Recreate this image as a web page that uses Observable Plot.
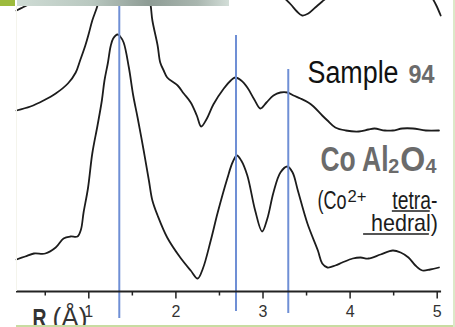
<!DOCTYPE html>
<html><head><meta charset="utf-8">
<script src="https://cdn.jsdelivr.net/npm/d3@7"></script>
<script src="https://cdn.jsdelivr.net/npm/@observablehq/plot@0.6"></script>
<style>
html,body{margin:0;padding:0;background:#fff;overflow:hidden}
#wrap{position:relative;width:455px;height:327px;overflow:hidden}
#wrap svg{position:absolute;left:0;top:0}
.deco{position:absolute;pointer-events:none}
</style></head><body>
<div id="wrap"></div>
<script>
// Fourier-transform magnitude curves (arbitrary units) vs R (Å)
const coR = [0.17,0.27,0.37,0.50,0.62,0.71,0.79,0.87,0.91,0.94,0.99,1.04,1.10,1.15,1.18,1.22,1.25,1.28,1.33,1.36,1.40,1.46,1.51,1.56,1.63,1.69,1.73,1.79,1.90,2.05,2.17,2.25,2.31,2.40,2.48,2.59,2.65,2.70,2.75,2.82,2.91,2.99,3.05,3.12,3.20,3.28,3.34,3.40,3.51,3.63,3.68,3.74,3.83,3.91,4.03,4.12,4.21,4.35,4.49,4.58,4.67,4.75,4.83,4.92,5.02];
const coV = [0.32,0.35,0.38,0.38,0.44,0.53,0.55,0.55,0.62,0.79,1.03,1.38,1.66,1.91,2.11,2.29,2.45,2.53,2.57,2.55,2.49,2.24,1.96,1.74,1.41,1.11,0.91,0.76,0.54,0.34,0.21,0.13,0.23,0.51,0.79,1.13,1.29,1.36,1.31,1.16,0.81,0.60,0.73,0.99,1.19,1.25,1.19,1.01,0.68,0.41,0.28,0.24,0.26,0.29,0.33,0.34,0.33,0.37,0.41,0.39,0.34,0.26,0.21,0.22,0.24];

const sampleR = [0.17,0.33,0.48,0.62,0.76,0.85,0.90,0.96,1.00,1.04,1.10,1.13,1.19,1.25,1.35,1.46,1.55,1.63,1.70,1.73,1.79,1.82,1.86,1.90,2.02,2.09,2.17,2.24,2.29,2.35,2.43,2.55,2.63,2.68,2.75,2.82,2.90,2.97,3.04,3.12,3.20,3.28,3.35,3.43,3.52,3.58,3.68,3.74,3.83,3.95,4.10,4.21,4.28,4.40,4.49,4.60,4.72,4.87,5.02];
const sampleV = [1.81,1.85,1.91,1.98,2.08,2.19,2.31,2.46,2.58,2.71,2.86,2.99,3.21,3.46,3.61,3.51,3.26,3.06,2.91,2.71,2.46,2.29,2.21,2.14,2.06,1.98,1.89,1.76,1.65,1.72,1.87,2.03,2.11,2.14,2.11,2.04,1.92,1.83,1.89,1.96,1.99,1.99,1.96,1.93,1.89,1.85,1.76,1.71,1.64,1.61,1.60,1.62,1.63,1.61,1.61,1.63,1.63,1.61,1.61];

// partially visible curve above (cut off by the slide)
const upperR = [0.17,0.24,0.33,0.42,0.56,1.02,2.28,2.97,3.14,3.24,3.32,3.39,3.45,3.52,3.60,3.68,3.78,4.35,4.87,4.94,4.99,5.04];
const upperV = [2.81,2.84,2.88,2.93,3.03,3.51,3.31,3.21,3.03,2.94,2.87,2.80,2.76,2.78,2.84,2.90,2.97,3.31,3.03,2.94,2.86,2.76];

// reference shell distances
const peakR = [1.35, 2.69, 3.29];
const peakTop = [2.95, 2.56, 2.22];
const peakBottom = [-0.27, -0.20, -0.22];

const majorTicks = [1, 2, 3, 4, 5];
const minorTicks = [0.5, 1.5, 2.5, 3.5, 4.5];
const tickLabels = ["1", "2", "3", "4", "5"];

const sampleWord = "Sample", sampleNum = "94";
const compoundMain = ["Co Al", "O"], compoundSub = ["2", "4"];
const ionText = "(Co", ionCharge = "2+", geomLine1 = "tetra-", geomLine2 = "hedral)";
const axisVar = "R", axisUnit = "(Å)";

const zip = (a, b) => a.map((x, i) => ({x, y: b[i]}));
const co = zip(coR, coV), sample = zip(sampleR, sampleV), upper = zip(upperR, upperV);
const peaks = peakR.map((r, i) => ({r, top: peakTop[i], bottom: peakBottom[i]}));

const font = "'Liberation Sans', Arial, Helvetica, sans-serif";
const grayBold = "#6b6b6b";
const ink = "#1c1c1c";

const lineOpts = {x: "x", y: "y", stroke: ink, strokeWidth: 1.8, curve: "catmull-rom", clip: true};

const plot = Plot.plot({
  width: 455, height: 327,
  marginTop: 0, marginRight: 0, marginBottom: 0, marginLeft: 0,
  x: {domain: [-0.0138, 5.210], axis: null},
  y: {domain: [-0.36, 2.91], axis: null},
  style: {background: "transparent", fontFamily: font, overflow: "hidden"},
  marks: [
    Plot.line(upper, lineOpts),
    Plot.line(sample, lineOpts),
    Plot.line(co, lineOpts),
    Plot.ruleX(peaks, {x: "r", y1: "bottom", y2: "top", stroke: "#6f8fd5", strokeWidth: 2}),
    // axis baseline
    Plot.ruleY([0], {y: d => d, x1: () => 0.17, x2: () => 5.05, stroke: "#222", strokeWidth: 2}),
    Plot.ruleX(majorTicks, {x: d => d, y1: () => 0, y2: () => -0.075, stroke: "#222", strokeWidth: 1.5}),
    Plot.ruleX(minorTicks, {x: d => d, y1: () => 0, y2: () => -0.045, stroke: "#222", strokeWidth: 1.5}),
    Plot.text(majorTicks, {x: d => d, y: () => -0.20, text: (d, i) => tickLabels[i], fontSize: 16, fill: "#333", textAnchor: "middle", lineAnchor: "middle"}),
    // annotations
    Plot.text([sampleWord], {x: () => 3.511, y: () => 2.09, text: d => d, fontSize: 31, fill: "#111", textAnchor: "start", lineAnchor: "bottom"}),
    Plot.text([sampleNum], {x: () => 4.670, y: () => 2.09, text: d => d, fontSize: 25, fontWeight: "bold", fill: grayBold, textAnchor: "start", lineAnchor: "bottom"}),
    Plot.text(compoundMain, {x: (d, i) => [3.660, 4.577][i], y: () => 1.21, text: d => d, fontSize: 35, fontWeight: "bold", fill: grayBold, textAnchor: "start", lineAnchor: "bottom"}),
    Plot.text(compoundSub, {x: (d, i) => [4.439, 4.865][i], y: () => 1.19, text: d => d, fontSize: 21, fontWeight: "bold", fill: grayBold, textAnchor: "start", lineAnchor: "bottom"}),
    Plot.text([ionText], {x: () => 3.625, y: () => 0.83, text: d => d, fontSize: 25, fill: ink, textAnchor: "start", lineAnchor: "bottom"}),
    Plot.text([ionCharge], {x: () => 3.970, y: () => 0.895, text: d => d, fontSize: 16, fill: ink, textAnchor: "start", lineAnchor: "bottom"}),
    Plot.text([geomLine1], {x: () => 4.485, y: () => 0.83, text: d => d, fontSize: 25, fill: ink, textAnchor: "start", lineAnchor: "bottom"}),
    Plot.text([geomLine2], {x: () => 4.240, y: () => 0.61, text: d => d, fontSize: 24, fill: ink, textAnchor: "start", lineAnchor: "bottom"}),
    Plot.ruleY([0.805], {y: d => d, x1: () => 4.485, x2: () => 4.92, stroke: ink, strokeWidth: 1.6}),
    Plot.ruleY([0.575], {y: d => d, x1: () => 4.155, x2: () => 4.91, stroke: ink, strokeWidth: 1.6}),
    Plot.text([axisVar], {x: () => 0.353, y: () => -0.355, text: d => d, fontSize: 25, fontWeight: "bold", fill: "#333", textAnchor: "start", lineAnchor: "bottom"}),
    Plot.text([axisUnit], {x: () => 0.583, y: () => -0.355, text: d => d, fontSize: 27, fill: "#333", textAnchor: "start", lineAnchor: "bottom"})
  ]
});

const wrap = document.getElementById("wrap");
wrap.appendChild(plot);

// condensed slide lettering: fit each annotation to the width it occupies in the source
const fitWidths = {
  "Sample|31": 91, "94|25": 26, "Co Al|35": 68, "2|21": 11, "O|35": 25, "4|21": 11,
  "(Co|25": 29, "2+|16": 19, "tetra-|25": 45, "hedral)|24": 67, "R|25": 14, "(Å)|27": 35
};
plot.querySelectorAll("text").forEach(t => {
  const fs = Math.round(parseFloat(getComputedStyle(t).fontSize));
  const w = fitWidths[t.textContent + "|" + fs];
  if (w) {
    t.setAttribute("textLength", w);
    t.setAttribute("lengthAdjust", "spacingAndGlyphs");
  }
});

// slide frame decorations
const deco = (css) => { const d = document.createElement("div"); d.className = "deco"; d.style.cssText = css; wrap.appendChild(d); };
deco("left:0;top:0;width:15px;height:6px;background:#9dbb3d");
deco("left:17px;top:0;width:212px;height:6px;background:linear-gradient(90deg,#cfdcd5 0%,#b9c8c0 35%,#8e9c95 62%,#a9b6af 85%,#d3ded8 100%)");
deco("left:16px;top:325px;width:439px;height:2px;background:#c8dca2");
deco("left:453px;top:0;width:2px;height:327px;background:#dbe8c8");
deco("left:16px;top:6px;width:1px;height:285px;background:#f4f4ec");
</script>
</body></html>
